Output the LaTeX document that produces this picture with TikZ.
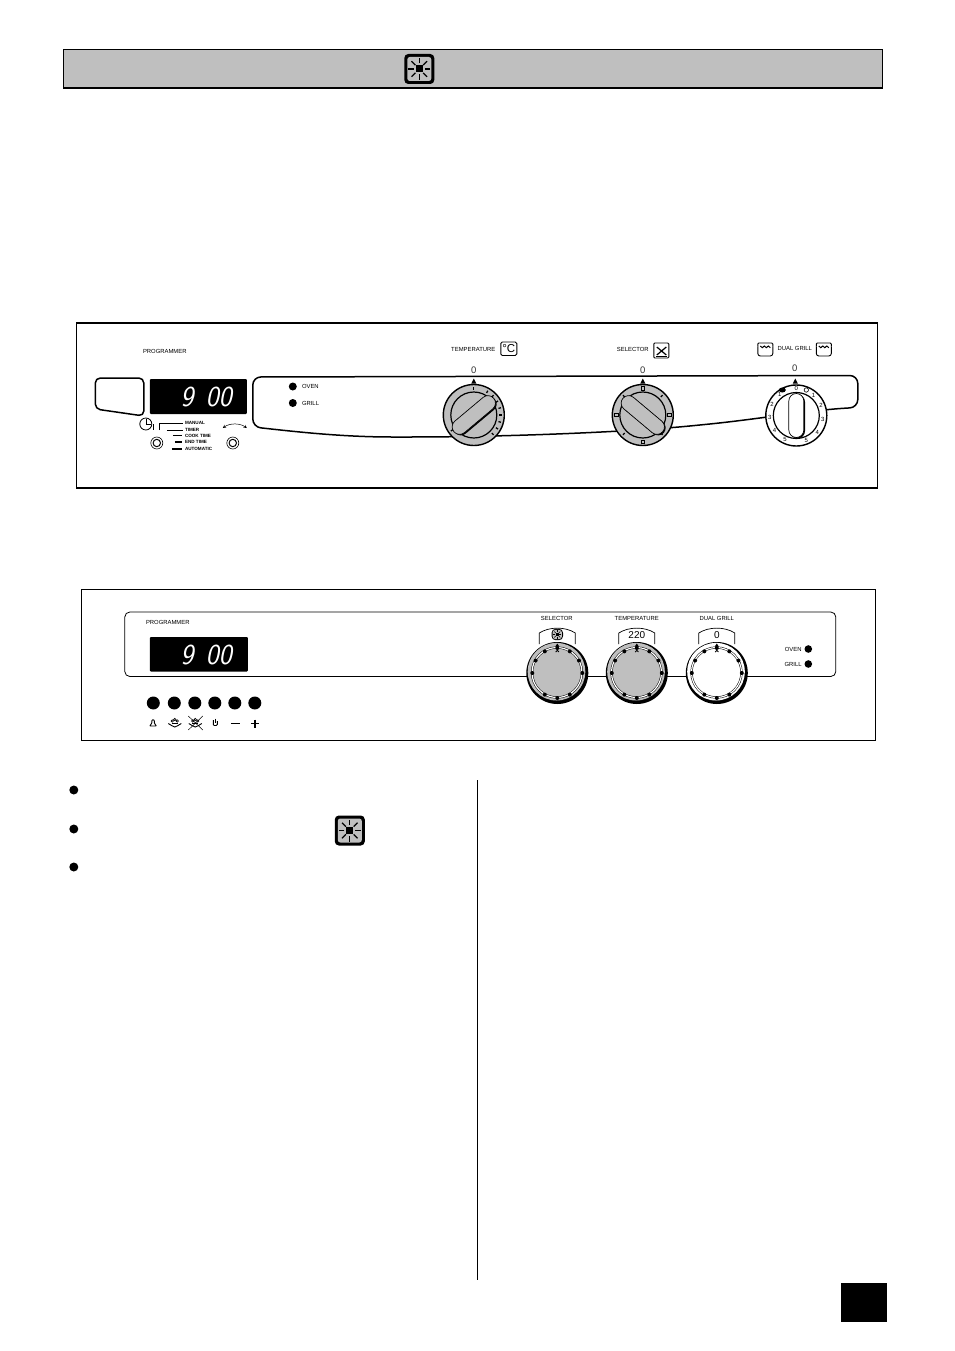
\documentclass[tikz,border=0pt]{standalone}
\usepackage{fontspec}
\setmainfont{Liberation Sans}
\usepackage{amsmath,amssymb}
\usetikzlibrary{positioning}
\definecolor{panelgray}{gray}{0.75}
\tikzset{
    panel/.style={draw,line width=1.3pt},
    label/.style={inner sep=0pt,font=\fontsize{5.9}{6}\selectfont},
    minilabel/.style={inner sep=0pt,anchor=west,font=\fontsize{4.6}{5}\selectfont\bfseries},
    zero/.style={inner sep=0pt,text=black!80,font=\fontsize{9.5}{10}\selectfont},
    screen/.style={fill=black,rounded corners=1pt},
    digits/.style={inner sep=0pt,text=white,xscale=0.95,transform shape,font=\fontsize{29}{30}\sffamily\itshape},
    led/.style={fill=black},
    bullet/.style={fill=black},
    tick/.style={line width=1.3pt},
    ringbox/.style={draw,line width=0.7pt,fill=panelgray,minimum size=3.6pt,inner sep=0pt},
}
\newcommand{\lampicon}[3]{%
    \begin{scope}[shift={(#1,#2)},scale=#3]
        \fill[black,rounded corners=4] (-15,-15) rectangle (15,15);
        \fill[panelgray,rounded corners=2.5] (-12,-12) rectangle (12,12);
        \fill[black] (-3.5,-3.5) rectangle (3.5,3.5);
        \foreach \a in {0,45,...,315}
            \draw[line width=#3*1.3pt,black] (\a:5.5) -- (\a:11);
    \end{scope}}
\newcommand{\dialknob}[6]{%
    \begin{scope}[shift={(#1,#2)}]
        \draw[line width=1.4pt,fill=#3] (0,0) circle[radius=30.5];
        \draw[line width=1.2pt,fill=#3] (0,0) circle[radius=23];
        \fill (0,0) circle[radius=0.3];
        \begin{scope}[shift={(1.2,1)},rotate=#4]
            \fill[black,rounded corners=7.5] (-#6,-7.5) rectangle (#6,7.5);
        \end{scope}
        \begin{scope}[rotate=#4]
            \draw[line width=0.7pt,fill=#3,rounded corners=7.5] (-#6,-7.5) rectangle (#6,7.5);
        \end{scope}
        \foreach \a in {#5}
            \draw[tick] (-\a:25.5) -- (-\a:28);
    \end{scope}}
\newcommand{\frontknob}[3]{%
    \begin{scope}[shift={(#1,#2)}]
        \fill[black] (0,0) circle[radius=31];
        \fill[#3] (-0.8,-1.3) circle[radius=28.8];
        \draw[line width=2.2pt,black] (-0.3,-0.5) circle[radius=25];
        \draw[line width=1.2pt,white] (-0.3,-0.5) circle[radius=25];
        \foreach \a in {90,60,120,30,150,0,180,-60,-120,-90}
            \fill[black] (-\a:25) circle[radius=2];
        \fill[black] (-2,-26.5) -- (2,-26.5) -- (0,-29.5) -- cycle;
        \draw[line width=0.9pt] (-1.6,-21) arc[start angle=180,end angle=360,radius=1.6];
    \end{scope}}
\newcommand{\knobwindow}[2]{%
    \draw[line width=0.7pt,fill=white] (#1-18,#2+11) -- (#1-18,#2)
        .. controls (#1-8,#2-6.5) and (#1+8,#2-6.5) .. (#1+18,#2) -- (#1+18,#2+11);}
\newcommand{\ovenicon}[2]{%
    \begin{scope}[shift={(#1,#2)}]
        \draw[line width=0.9pt,rounded corners=2.5] (-7.5,-3) -- (-7.5,6.5) -- (7.5,6.5) -- (7.5,-3);
        \draw[line width=0.9pt,rounded corners=1] (-7.5,-3) -- (-7.5,-6.5) -- (7.5,-6.5) -- (7.5,-3);
        \draw[line width=1pt] (-5,-3.5) -- (-3,-1.8) -- (-1,-3.5) -- (1,-1.8) -- (3,-3.5) -- (5,-1.8);
    \end{scope}}
\newcommand{\dishicon}[2]{%
    \begin{scope}[shift={(#1,#2)}]
        \draw[line width=0.9pt] (-6.5,0.5) .. controls (-3,1.5) and (-3,4) .. (0,4)
            .. controls (3,4) and (3,1.5) .. (6.5,0.5);
        \draw[line width=0.6pt] (-2.5,-2) circle[radius=1.2] (0,-3.5) circle[radius=1.2] (2.5,-2) circle[radius=1.2];
        \draw[line width=0.5pt] (-3,0.5) -- (3,0.5);
    \end{scope}}
\begin{document}
\begin{tikzpicture}[x=1pt,y=-1pt,>=stealth]
    \useasboundingbox (0.2,0) rectangle (954.2,1351);

    \draw[fill=panelgray,line width=0.8pt] (64,49) rectangle (883,88);
    \draw[line width=1.5pt] (64,88) -- (883,88);
    \lampicon{419.5}{69}{1}

    \draw[panel] (77,323) rectangle (878,488);
    \node[label] (progupper) at (165,351) {PROGRAMMER};
    \draw[line width=1.5pt,rounded corners=5] (95.5,378) -- (144,378) -- (144,416) -- (95.5,409) -- cycle;
    \fill[screen] (150,379) rectangle (247,414);
    \node[digits] (timeupper) at (206.5,397) {9\hspace{13pt}00};
    \draw[line width=1.5pt,rounded corners=8] (253,427)
        .. controls (290,431) and (340,437) .. (400,437)
        .. controls (520,437) and (640,431) .. (700,425)
        .. controls (760,419) and (810,410) .. (858,407.5)
        -- (858,375.5) -- (253,377) -- cycle;
    \draw[line width=0.8pt] (146,424) circle[radius=6];
    \draw[line width=0.6pt] (146,424) -- (146,418.5) (146,424) -- (151.5,424);
    \draw[line width=0.9pt] (153.5,424) -- (153.5,430);
    \draw[line width=0.9pt] (160,430) -- (160,423) -- (183,423);
    \draw[line width=0.9pt] (167,430) -- (183,430);
    \draw[line width=1.1pt] (173,435.5) -- (182,435.5);
    \draw[line width=1.1pt] (175,442) -- (182,442);
    \draw[line width=1.1pt] (172,449) -- (182,449);
    \node[minilabel] (manual) at (185,422.5) {MANUAL};
    \node[minilabel] (timer) at (185,430) {TIMER};
    \node[minilabel] (cooktime) at (185,436) {COOK TIME};
    \node[minilabel] (endtime) at (185,442) {END TIME};
    \node[minilabel] (automatic) at (185,449) {AUTOMATIC};
    \foreach \x in {157,233} {
        \draw[line width=0.6pt,fill=white] (\x,443) circle[radius=6];
        \draw[line width=1pt] (\x,443) circle[radius=3.7];
    }
    \coordinate (arcleft) at (223,428);
    \coordinate (arcright) at (247,428);
    \draw[<->,line width=0.5pt] (arcleft) .. controls (230,423) and (240,423) .. (arcright);
    \fill[led] (293,386.5) circle[radius=4];
    \fill[led] (293,403) circle[radius=4];
    \node[label,anchor=west] (ovenupper) at (302,386.5) {OVEN};
    \node[label,anchor=west] (grillupper) at (302,403) {GRILL};

    \node[label] (tempupper) at (473.5,349) {TEMPERATURE};
    \draw[line width=0.9pt,rounded corners=1.5] (501,342) rectangle (517,355.5);
    \node[inner sep=0pt,font=\fontsize{11.5}{12}\selectfont] (degc) at (509,349) {°C};
    \node[label] (selupper) at (633,349.5) {SELECTOR};
    \draw[line width=0.9pt,rounded corners=1] (654,343) rectangle (669,358);
    \draw[line width=1.2pt] (657,347) -- (666.5,355) (666.5,347) -- (657,355);
    \draw[line width=0.7pt] (656,356) -- (667,356);
    \node[label] (dualupper) at (795,348) {DUAL GRILL};
    \ovenicon{765.5}{349.5}
    \ovenicon{824}{349.5}
    \node[zero] (zerotemp) at (474,370) {0};
    \node[zero] (zerosel) at (643,370) {0};
    \node[zero] (zerodual) at (795,368.5) {0};
    \foreach \x in {474,643,795.5}
        \fill (\x-2.5,383.5) -- (\x+2.5,383.5) -- (\x,378.5) -- cycle;
    \dialknob{474}{415}{panelgray}{40}{90,60,45,30,15,0,-15,-30,-45,215}{26}
    \dialknob{643}{415}{panelgray}{-40}{135,45,-45,-135}{26}
    \dialknob{796.5}{415.5}{white}{90}{}{22}
    \begin{scope}[shift={(643,415)}]
        \foreach \a in {90,180,0,-90}
            \node[ringbox] (selmark\a) at (-\a:26.7) {};
    \end{scope}
    \begin{scope}[shift={(796.5,415.5)}]
        \fill[black] (-14,-25.5) ellipse[x radius=3.5,y radius=2.5];
        \draw[line width=0.6pt] (10,-25.5) circle[radius=2.2];
        \foreach \n/\a in {0/90,1/128,2/155,3/185,4/215,5/245,1/50,2/22,3/-8,4/-38,5/-68}
            \node[inner sep=0pt,font=\fontsize{6}{6}\selectfont] (mark\n\a) at (-\a:26.7) {\n};
    \end{scope}

    \draw[line width=1pt] (82,589) rectangle (876,740);
    \draw[line width=0.8pt,rounded corners=5] (125,612) rectangle (836,676.5);
    \node[label,anchor=west] (proglower) at (146,622.5) {PROGRAMMER};
    \fill[screen] (150,637) rectangle (248,671.5);
    \node[digits] (timelower) at (206.5,654.5) {9\hspace{13pt}00};
    \foreach \x in {153.5,174.5,195,215,235,255}
        \fill (\x,703) circle[radius=6.5];
    \draw[line width=0.9pt,rounded corners=0.5] (150,726) -- (156.5,726) -- (154.5,723) -- (154.5,720.5) -- (153.2,719.5) -- (152,720.5) -- (152,723) -- cycle;
    \dishicon{175}{723}
    \dishicon{195.5}{723}
    \draw[line width=0.5pt] (188.5,716) -- (203,730) (203,716) -- (188.5,730);
    \draw[line width=0.9pt,rounded corners=1] (213.5,720) -- (213.5,725.5) -- (217.5,725.5) -- (217.5,721);
    \draw[line width=0.9pt] (215.5,718.5) -- (215.5,723);
    \draw[line width=1.8pt] (231,723.5) -- (240,723.5);
    \draw[line width=1.8pt] (251,723.5) -- (259,723.5) (255,719.5) -- (255,727.5);

    \node[label] (sellower) at (557,618.5) {SELECTOR};
    \node[label] (templower) at (637,618.5) {TEMPERATURE};
    \node[label] (duallower) at (717,618.5) {DUAL GRILL};
    \knobwindow{557.5}{633}
    \knobwindow{637}{633}
    \knobwindow{717}{633}
    \lampicon{557.5}{634.5}{0.38}
    \node[inner sep=0pt,font=\fontsize{10}{10}\selectfont] (tempread) at (637,635) {220};
    \node[inner sep=0pt,font=\fontsize{10}{10}\selectfont] (dualread) at (717,635) {0};
    \frontknob{557.5}{673}{panelgray}
    \frontknob{637}{673}{panelgray}
    \frontknob{717}{673}{white}
    \fill[led] (808.5,649) circle[radius=3.8];
    \fill[led] (808.5,664) circle[radius=3.8];
    \node[label,anchor=east] (ovenlower) at (802,649) {OVEN};
    \node[label,anchor=east] (grilllower) at (802,664) {GRILL};

    \foreach \y in {790,829,867}
        \fill[bullet] (74,\y) circle[radius=4.5];
    \lampicon{350}{830.5}{1}
    \draw[line width=0.8pt] (477.5,780) -- (477.5,1280);
    \fill (841,1283) rectangle (887,1322);
\end{tikzpicture}
\end{document}
